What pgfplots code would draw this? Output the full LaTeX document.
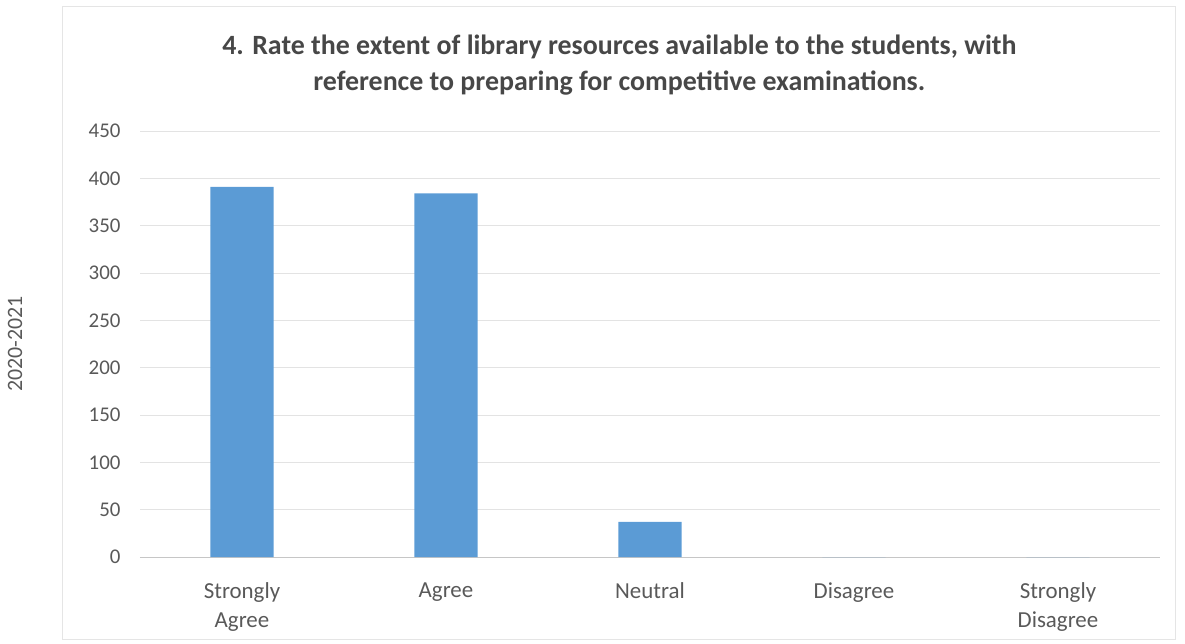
\documentclass[border=0pt]{standalone}
\usepackage{fontspec}
\setmainfont{Carlito}
\usepackage{pgfplots}
\pgfplotsset{compat=1.18}
\usetikzlibrary{calc}
\definecolor{barblue}{HTML}{5B9BD5}
\definecolor{txtgray}{HTML}{595959}

\begin{document}
\begin{tikzpicture}
\begin{axis}[
    scale only axis,
    width=1020bp, height=426bp,
    xmin=-0.5, xmax=4.5,
    ymin=0, ymax=450,
    ytick={0,50,...,450},
    xtick={0,1,2,3,4},
    xticklabels={Strongly\\Agree, Agree, Neutral, Disagree, Strongly\\Disagree},
    xticklabel style={align=center, text=txtgray, font=\fontsize{23}{29}\selectfont, yshift=-22bp},
    yticklabel style={text=txtgray, font=\fontsize{21}{24}\selectfont, xshift=-16bp},
    /pgf/number format/assume math mode=true,
    axis x line*=bottom, axis y line*=left,
    y axis line style={draw=none},
    x axis line style={draw=gray!45, line width=0.8bp, -},
    major tick style={draw=none},
    ymajorgrids, grid style={draw=gray!22, line width=0.8bp},
    ylabel={2020-2021},
    ylabel style={at={(axis description cs:-0.1225,0.5)}, anchor=center, text=txtgray, font=\fontsize{22}{24}\selectfont},
    title={\textbf{4. Rate the extent of library resources available to the students, with}\\\textbf{reference to preparing for competitive examinations.}},
    title style={at={(axis description cs:0.47,1)}, anchor=south, align=center, yshift=26bp, text=txtgray!80!black, font=\fontsize{28}{36}\selectfont},
    clip=false,
]
\addplot[ybar, bar width=0.31, fill=barblue, draw=none] coordinates {
    (0,391) (1,384) (2,37) (3,0) (4,0)
};
\coordinate (bl) at (rel axis cs:0,0);
\end{axis}
\path (bl) ++(-140bp,-87bp) rectangle ++(1185bp,644bp);
\draw[gray!20, line width=0.8bp] ($(bl)+(-78bp,-82bp)$) rectangle ++(1113bp,633bp);
\end{tikzpicture}
\end{document}
